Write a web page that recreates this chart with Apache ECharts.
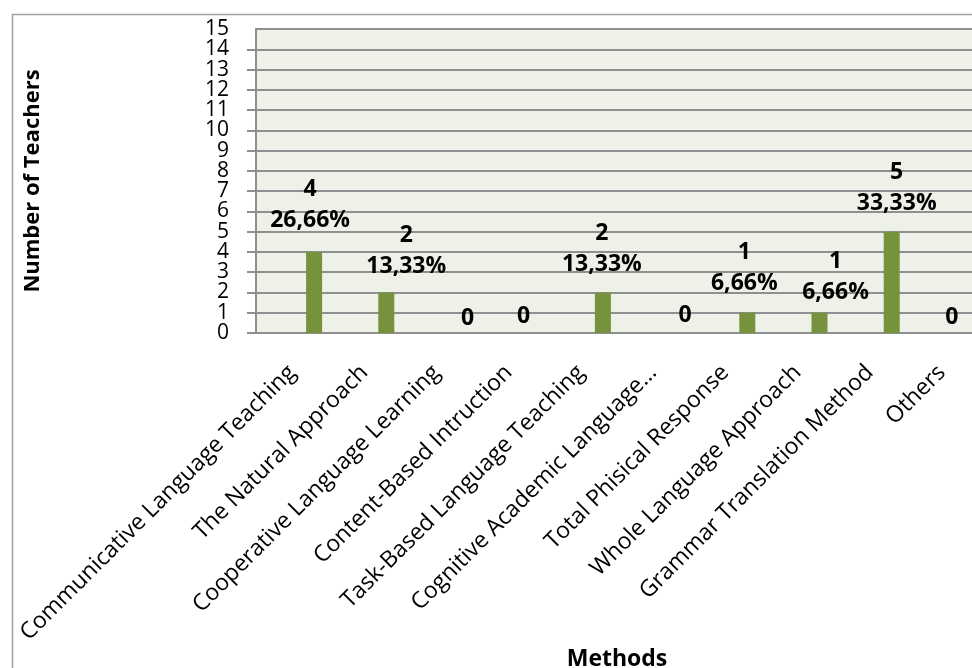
<!DOCTYPE html>
<html>
<head>
<meta charset="utf-8">
<script src="https://cdn.jsdelivr.net/npm/echarts@6/dist/echarts.min.js"></script>
<style>
  html, body { margin: 0; padding: 0; background: #ffffff; }
  #chart { width: 972px; height: 668px; }
</style>
</head>
<body>
<div id="chart"></div>
<script>
// Teaching methods used by the surveyed teachers
const methods = [
  'Communicative Language Teaching',
  'The Natural Approach',
  'Cooperative Language Learning',
  'Content-Based Intruction',
  'Task-Based Language Teaching',
  'Cognitive Academic Language…',
  'Total Phisical Response',
  'Whole Language Approach',
  'Grammar Translation Method',
  'Others'
];
const teachers = [4, 2, 0, 0, 2, 0, 1, 1, 5, 0];
const shares = ['26,66%', '13,33%', '', '', '13,33%', '', '6,66%', '6,66%', '33,33%', ''];
const yMin = 0, yMax = 15, yStep = 1;

// hand-placed data labels: [dx, dy] nudges from the default spot above each bar
const labelNudge = [[-4, -11], [20, -6], [9, 6], [-7, 4], [-1, -8], [10, 3], [-3, -9], [16, 0], [5, -8], [-12, 5]];

const FONT = '"Open Sans", sans-serif';
const GRID_GREY = '#8f8f8f';

const barData = teachers.map((v, i) => ({
  value: v,
  label: { offset: labelNudge[i] }
}));

// The tick numbers sit closer than their own height, so even and odd values
// are written by two stacked axes to keep every number on screen.
function tickLabels(parity, showMin, showMax) {
  return {
    margin: 27,
    fontFamily: FONT, fontSize: 21, color: '#000',
    showMinLabel: showMin, showMaxLabel: showMax, hideOverlap: false,
    formatter: v => (Math.round(v) % 2 === parity ? String(v) : '')
  };
}

const chart = echarts.init(document.getElementById('chart'));
chart.setOption({
  animation: false,
  backgroundColor: '#ffffff',
  textStyle: { fontFamily: FONT },
  graphic: [{
    type: 'rect',
    left: 10, top: 12,
    shape: { width: 1000, height: 700 },
    style: { fill: 'none', stroke: '#a0a0a0', lineWidth: 1.5 },
    silent: true
  }],
  grid: {
    left: 256, top: 29, width: 722, height: 304,
    outerBoundsMode: 'none',
    containLabel: false,
    show: true, backgroundColor: '#eef1e8', borderWidth: 0
  },
  xAxis: {
    type: 'category',
    data: methods,
    name: 'Methods',
    nameLocation: 'middle',
    nameGap: 315,
    nameTextStyle: { fontFamily: FONT, fontWeight: 'bold', fontSize: 23, color: '#000' },
    axisLine: { show: true, lineStyle: { color: GRID_GREY, width: 2 } },
    axisTick: { show: false },
    axisLabel: {
      interval: 0, rotate: 45, margin: 36,
      fontFamily: FONT, fontSize: 23, color: '#000'
    },
    splitLine: { show: false }
  },
  yAxis: [
    {
      type: 'value',
      position: 'left',
      min: yMin, max: yMax, interval: yStep,
      name: 'Number of Teachers',
      nameLocation: 'middle',
      nameGap: 212,
      nameTextStyle: { fontFamily: FONT, fontWeight: 'bold', fontSize: 22, color: '#000' },
      axisLine: { show: true, lineStyle: { color: GRID_GREY, width: 2 } },
      axisTick: { show: true, length: 9, lineStyle: { color: GRID_GREY, width: 2 } },
      axisLabel: tickLabels(0, true, false),
      splitLine: { show: true, lineStyle: { color: GRID_GREY, width: 2 } }
    },
    {
      type: 'value',
      position: 'left',
      offset: 0,
      min: yMin, max: yMax, interval: yStep,
      axisLine: { show: false },
      axisTick: { show: false },
      axisLabel: tickLabels(1, false, true),
      splitLine: { show: false }
    }
  ],
  series: [
    {
      // empty slot that keeps the green bars right of each category centre
      type: 'bar',
      name: 'spacer',
      data: [],
      barWidth: 16,
      silent: true
    },
    {
      type: 'bar',
      name: 'Teachers',
      data: barData,
      barWidth: 16,
      barGap: '175%',
      itemStyle: { color: '#76923c' },
      label: {
        show: true,
        position: 'top',
        distance: 5,
        fontFamily: FONT,
        fontWeight: 'bold',
        fontSize: 23,
        lineHeight: 31,
        color: '#000',
        formatter: p => shares[p.dataIndex] ? p.value + '\n' + shares[p.dataIndex] : String(p.value)
      }
    }
  ]
});
</script>
</body>
</html>
